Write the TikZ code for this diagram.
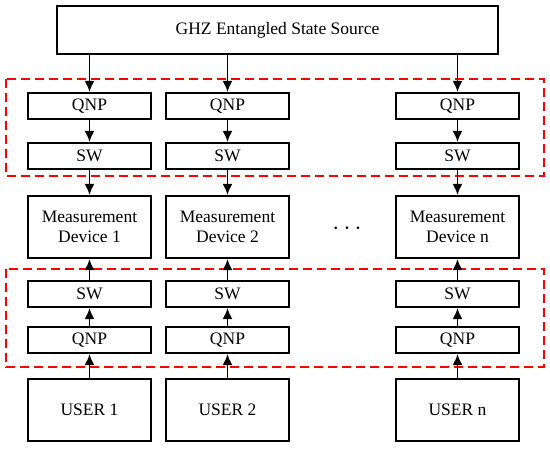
\documentclass[tikz,border=0pt]{standalone}
\usepackage{fontspec}
\setmainfont{Liberation Serif}
\usetikzlibrary{arrows.meta}

\tikzset{
  blk/.style={draw, line width=2.2pt, minimum width=123pt, inner sep=0pt, font=\fontsize{17.5}{20}\selectfont},
  small/.style={blk, minimum height=26pt},
  big/.style={blk, minimum height=62pt, align=center},
  arr/.style={line width=1.6pt, -{Latex[length=11pt,width=10pt]}},
  grp/.style={draw=red, line width=2.2pt, dash pattern=on 9pt off 5pt}
}

\begin{document}
\begin{tikzpicture}[x=1pt,y=-1pt]
  \useasboundingbox (0,0) rectangle (550,449);
  \node [blk, minimum width=441pt, minimum height=48pt] (ghz) at (277.5,30) {GHZ Entangled State Source};
  % upper group
  \draw [grp] (6,79) rectangle (544,176);
  \node [small] (qa1) at (89.5,106) {QNP};
  \node [small] (qa2) at (227.5,106) {QNP};
  \node [small] (qan) at (457.5,106) {QNP};
  \node [small] (sa1) at (89.5,156) {SW};
  \node [small] (sa2) at (227.5,156) {SW};
  \node [small] (san) at (457.5,156) {SW};
  % devices
  \node [big] (m1) at (89.5,227) {Measurement\\Device 1};
  \node [big] (m2) at (227.5,227) {Measurement\\Device 2};
  \node [big] (mn) at (457.5,227) {Measurement\\Device n};
  \node [font=\fontsize{24}{24}\selectfont] (dots) at (347,229) {$\cdots$};
  % lower group
  \draw [grp] (6,269) rectangle (544,367);
  \node [small] (sb1) at (89.5,294) {SW};
  \node [small] (sb2) at (227.5,294) {SW};
  \node [small] (sbn) at (457.5,294) {SW};
  \node [small] (qb1) at (89.5,340) {QNP};
  \node [small] (qb2) at (227.5,340) {QNP};
  \node [small] (qbn) at (457.5,340) {QNP};
  \node [big] (u1) at (89.5,410) {USER 1};
  \node [big] (u2) at (227.5,410) {USER 2};
  \node [big] (un) at (457.5,410) {USER n};
  % connectors
  \foreach \c in {1,2,n} {
    \draw [arr] (qa\c.north |- ghz.south) -- (qa\c.north);
    \draw [arr] (qa\c) -- (sa\c);
    \draw [arr] (sa\c) -- (m\c);
    \draw [arr] (u\c) -- (qb\c);
    \draw [arr] (qb\c) -- (sb\c);
    \draw [arr] (sb\c) -- (m\c);
  }
\end{tikzpicture}
\end{document}
